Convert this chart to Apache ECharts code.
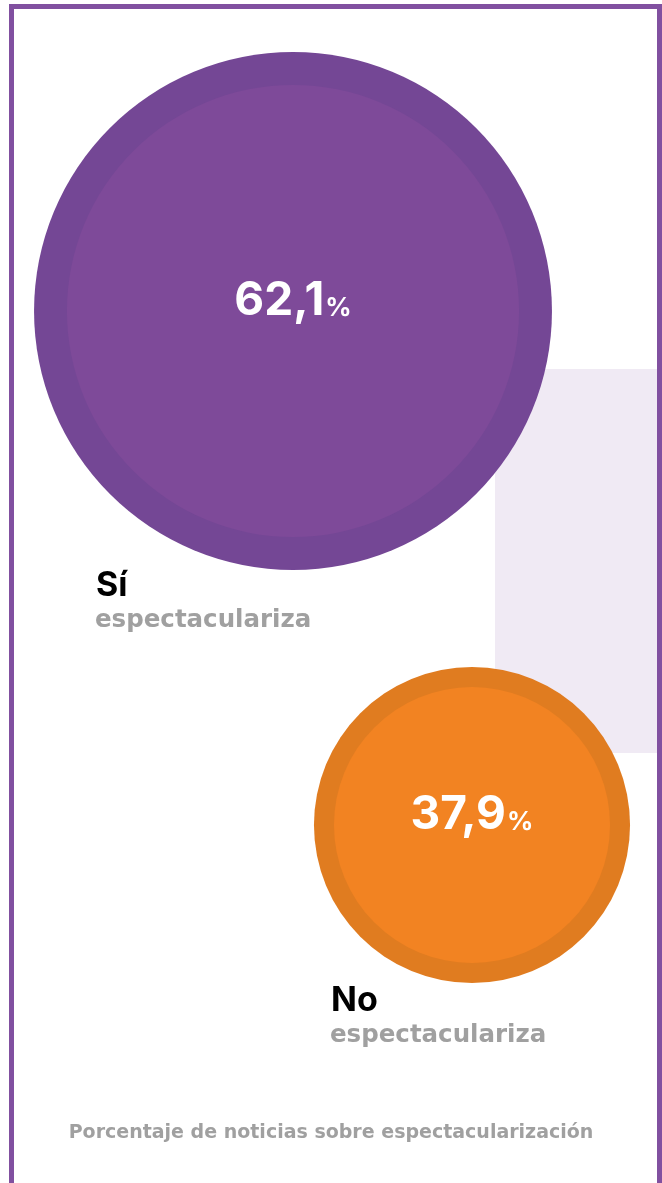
<!DOCTYPE html>
<html>
<head>
<meta charset="utf-8">
<script src="https://cdn.jsdelivr.net/npm/echarts@6/dist/echarts.min.js"></script>
<style>
  html, body { margin: 0; padding: 0; background: #fff; }
  #chart { width: 662px; height: 1183px; }
</style>
</head>
<body>
<div id="chart"></div>
<script>
// datos
var categorias = ['Sí', 'No'];
var porcentajes = [62.1, 37.9];
var etiquetas = ['62,1', '37,9'];
var subtitulo = 'espectaculariza';
var titulo = 'Porcentaje de noticias sobre espectacularización';

var colorExterior = ['#744795', '#e07c20'];
var colorInterior = ['#7e4a99', '#f28322'];

// tamaño del circulo proporcional al valor
var escala = 8.34;
var interior = 0.873;

function initEcharts() {
    var myChart = echarts.init(document.getElementById('chart'));

    var exterior = categorias.map(function (c, i) {
        return {
            value: [c, c, porcentajes[i]],
            itemStyle: { color: colorExterior[i], opacity: 1 }
        };
    });
    var dentro = categorias.map(function (c, i) {
        return {
            value: [c, c, porcentajes[i]],
            itemStyle: { color: colorInterior[i], opacity: 1 },
            label: { formatter: '{v|' + etiquetas[i] + '}{p|%}' }
        };
    });

    var textos = [];
    var posTexto = [[96, 569], [331, 984]];
    categorias.forEach(function (c, i) {
        textos.push({
            type: 'text', x: posTexto[i][0], y: posTexto[i][1],
            style: { text: c, font: 'bold 34px Inter', fill: '#000' }
        });
        textos.push({
            type: 'text', x: posTexto[i][0] - 1, y: posTexto[i][1] + 39,
            style: { text: subtitulo, font: 'bold 24.5px "DejaVu Sans"', fill: '#a0a0a0' }
        });
    });

    var option = {
        animation: false,
        grid: { left: 203.5, width: 358, top: 54, height: 1028 },
        xAxis: { type: 'category', data: categorias, show: false },
        yAxis: { type: 'category', data: categorias, inverse: true, show: false },
        graphic: [
            {
                type: 'rect', x: 495, y: 369, z: 0,
                shape: { width: 167, height: 384 },
                style: { fill: '#f0eaf4' }
            },
            {
                type: 'rect', x: 11.5, y: 6.5, z: 0,
                shape: { width: 648, height: 1200 },
                style: { fill: 'none', stroke: '#8150a0', lineWidth: 5 }
            },
            {
                type: 'text', left: 'center', top: 1124,
                style: { text: titulo, font: 'bold 19px "DejaVu Sans"', fill: '#a0a0a0' }
            }
        ].concat(textos),
        series: [
            {
                type: 'scatter', clip: false, silent: true,
                symbolSize: function (v) { return v[2] * escala; },
                data: exterior
            },
            {
                type: 'scatter', clip: false, silent: true,
                symbolSize: function (v) { return v[2] * escala * interior; },
                data: dentro,
                label: {
                    show: true, position: 'inside', offset: [0, -10],
                    rich: {
                        v: { fontFamily: 'Inter', fontWeight: 'bold', fontSize: 46, color: '#fff' },
                        p: { fontFamily: 'Inter', fontWeight: 'bold', fontSize: 26, color: '#fff', padding: [14, 0, 0, 1] }
                    }
                }
            }
        ]
    };

    myChart.setOption(option);
}

initEcharts();
</script>
</body>
</html>
